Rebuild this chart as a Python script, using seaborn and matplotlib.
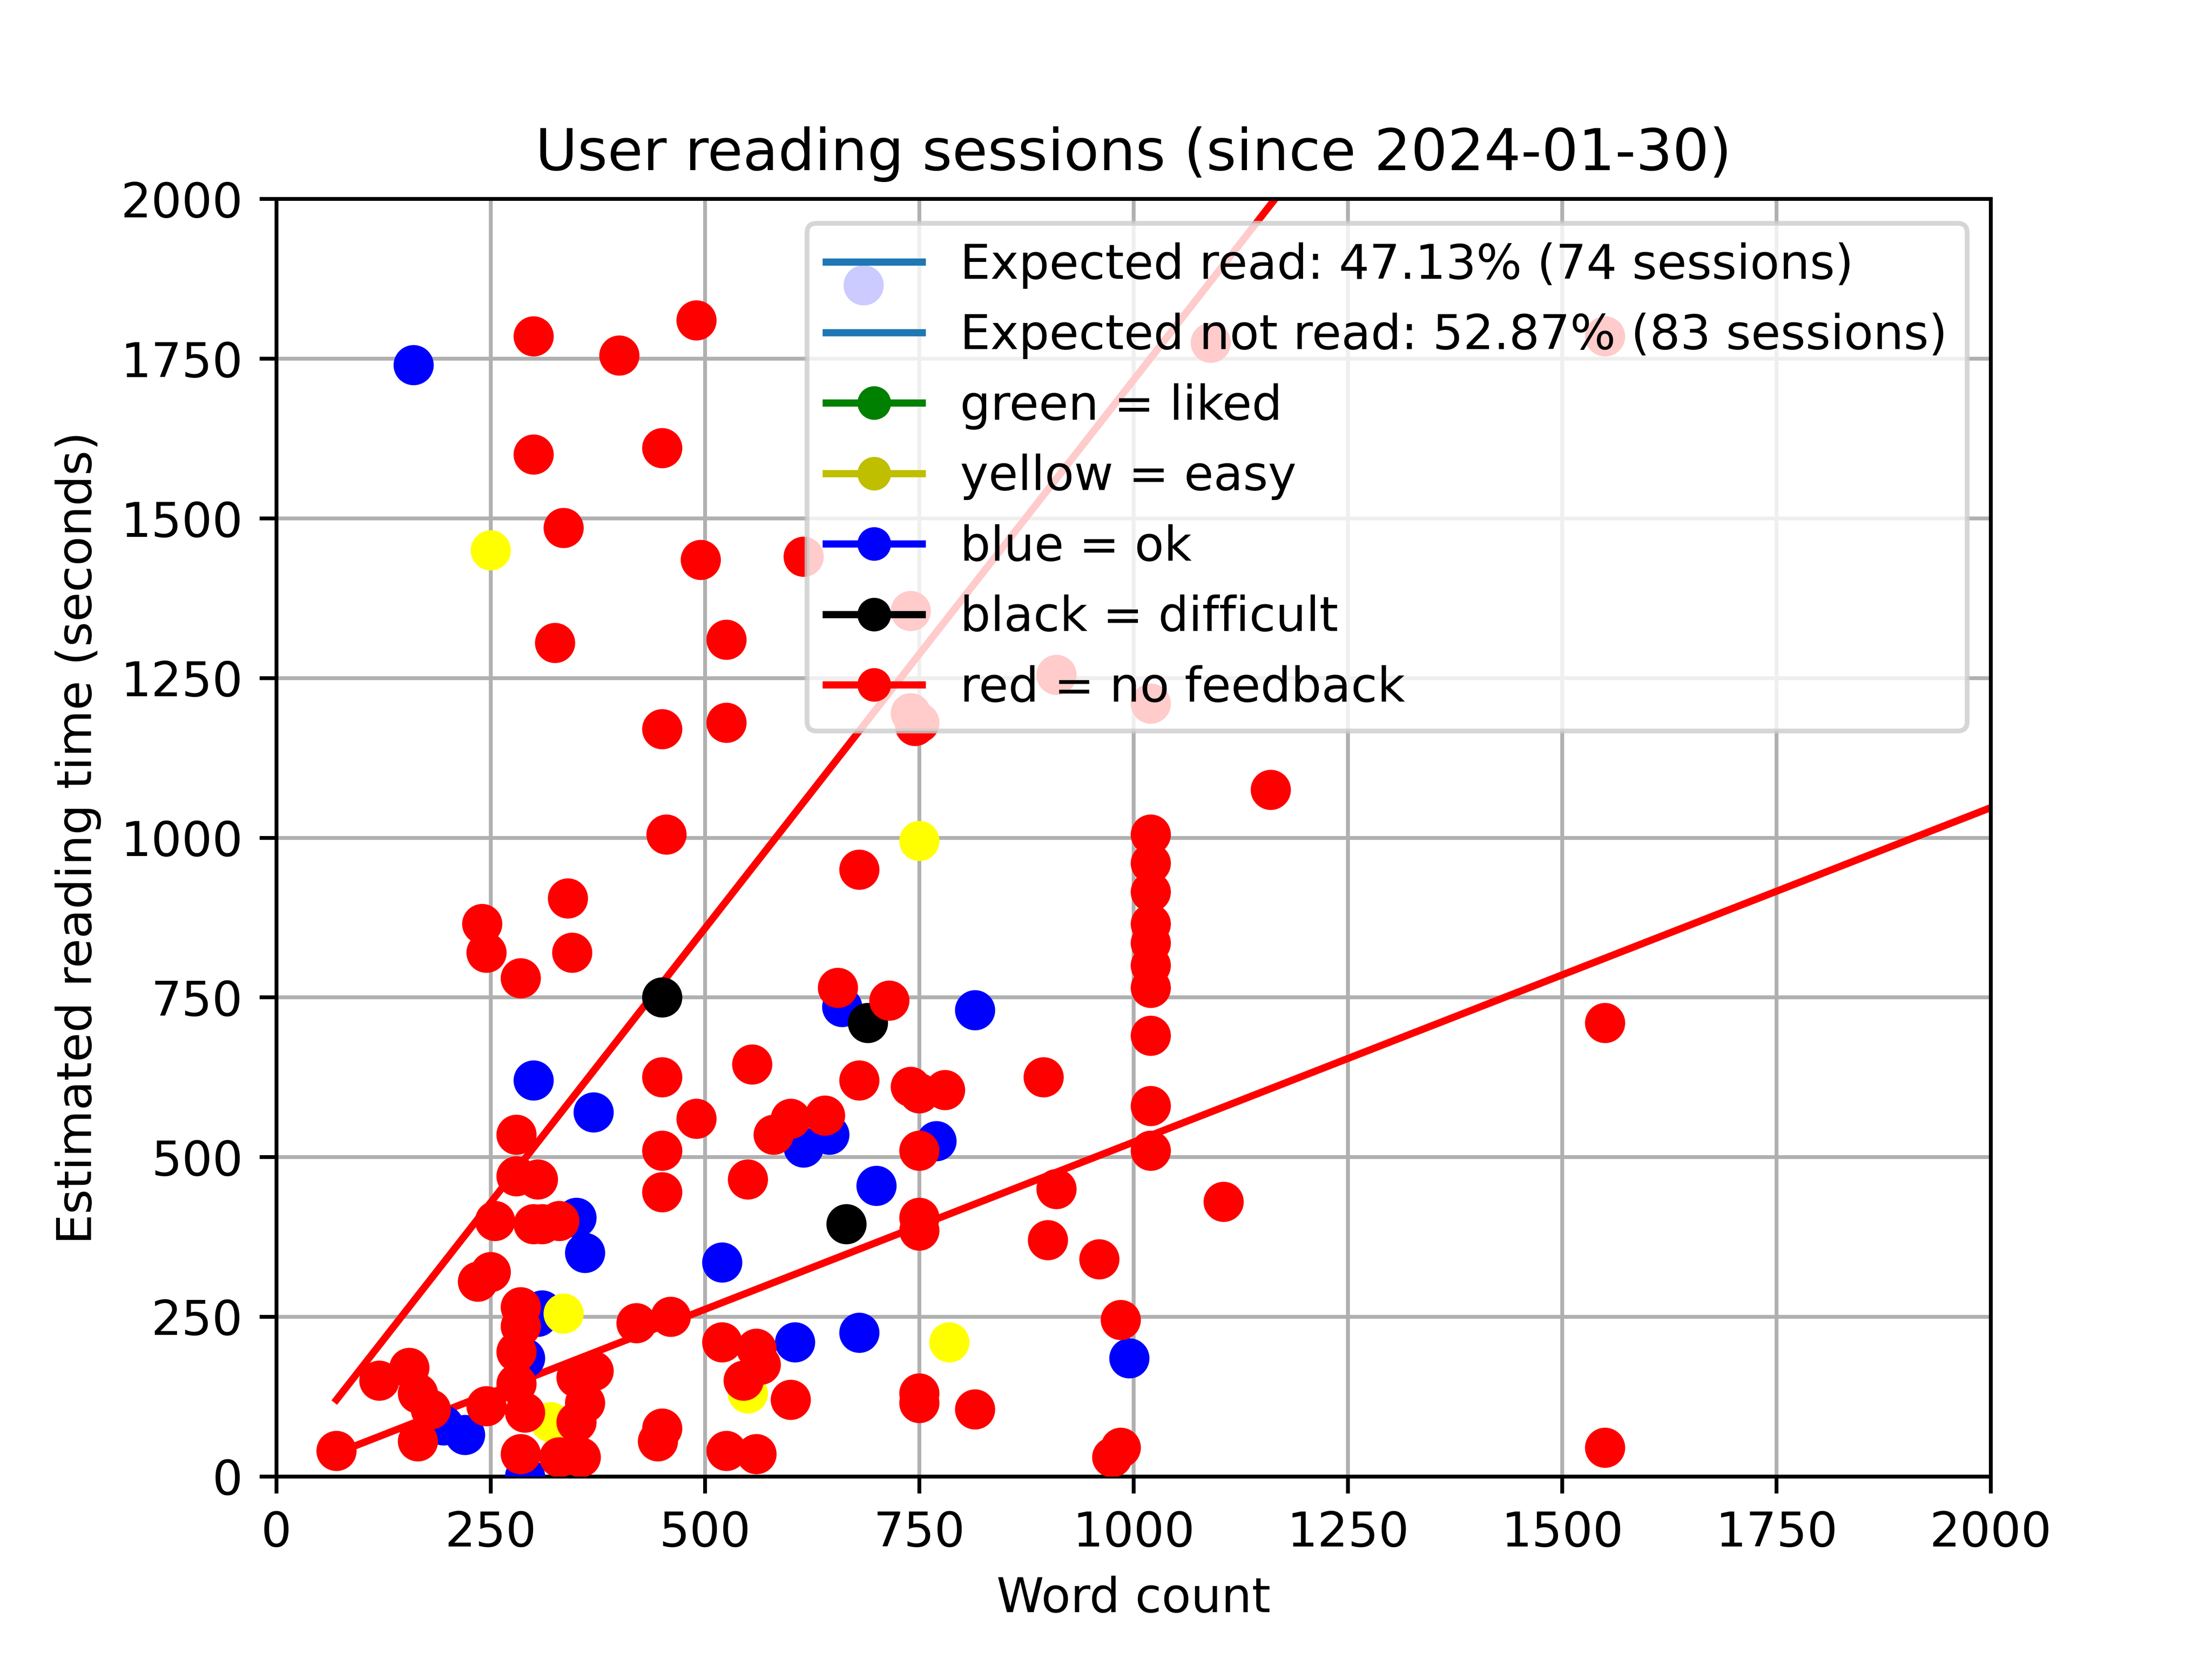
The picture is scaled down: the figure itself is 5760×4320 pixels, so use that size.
import numpy as np
import pandas as pd
import seaborn as sns
import matplotlib.pyplot as plt
from matplotlib.lines import Line2D

red_x = [70, 120, 155, 165, 165, 180, 235, 240, 245, 250, 255, 245, 285, 280, 280, 285, 285, 280, 280, 290, 285,
         300, 300, 300, 305, 310, 325, 330, 335, 340, 345, 350, 350, 355, 360, 370, 330, 400, 420, 445, 450, 450,
         450, 450, 450, 450, 455, 460, 490, 495, 490, 520, 525, 525, 525, 545, 550, 555, 560, 565, 560, 580, 600,
         600, 615, 640, 655, 680, 680, 715, 740, 740, 745, 740, 750, 750, 750, 750, 750, 750, 750, 780, 815, 895,
         900, 910, 910, 960, 975, 985, 985, 1020, 1020, 1020, 1020, 1020, 1020, 1020, 1020, 1020, 1020, 1020,
         1090, 1105, 1160, 1550, 1550, 1550]
red_y = [40, 150, 170, 130, 55, 105, 305, 865, 820, 320, 400, 110, 780, 535, 470, 265, 235, 195, 145, 100, 35,
         1785, 1600, 395, 465, 395, 1305, 400, 1485, 905, 820, 155, 85, 30, 115, 165, 30, 1755, 240, 55, 75, 1610,
         1170, 625, 510, 445, 1005, 250, 1810, 1435, 560, 210, 1310, 1180, 40, 150, 465, 645, 200, 175, 35, 535, 560,
         120, 1440, 565, 765, 950, 620, 745, 1355, 1195, 1175, 610, 1180, 600, 510, 405, 385, 130, 115, 605, 105, 625,
         370, 450, 1255, 340, 30, 45, 245, 1005, 960, 915, 865, 835, 800, 765, 690, 580, 510, 1210,
         1775, 430, 1075, 1785, 710, 45]
blue_x = [160, 195, 220, 290, 300, 305, 310, 350, 360, 370, 520, 605, 615, 645, 660, 680, 685, 700, 750, 770, 815, 995, 290]
blue_y = [1740, 80, 65, 185, 620, 250, 260, 405, 350, 570, 335, 210, 515, 535, 735, 225, 1865, 455, 600, 525, 730, 185, 0]
yellow_x = [250, 320, 335, 550, 750, 785]
yellow_y = [1450, 85, 255, 130, 995, 210]
black_x = [450, 665, 690]
black_y = [750, 395, 710]

line_x = [70, 2000]
read_slope = 1.717
notread_slope = 0.5236

df = pd.DataFrame({
    "words": blue_x + yellow_x + black_x + red_x,
    "time": blue_y + yellow_y + black_y + red_y,
    "feedback": ["blue"] * len(blue_x) + ["yellow"] * len(yellow_x) + ["black"] * len(black_x) + ["red"] * len(red_x),
})

fig, ax = plt.subplots(figsize=(6.4, 4.8), dpi=900)
sns.scatterplot(data=df, x="words", y="time", hue="feedback",
                palette={"blue": "blue", "yellow": "yellow", "black": "black", "red": "red"},
                s=70, edgecolor="none", legend=False, ax=ax, zorder=3)
lx = np.array(line_x)
ax.plot(lx, lx * read_slope, color="red", zorder=2)
ax.plot(lx, lx * notread_slope, color="red", zorder=2)

ax.set_xlim(0, 2000)
ax.set_ylim(0, 2000)
ax.set_xticks(range(0, 2001, 250))
ax.set_yticks(range(0, 2001, 250))
ax.grid(True, zorder=0)
ax.set_axisbelow(True)
ax.set_xlabel("Word count")
ax.set_ylabel("Estimated reading time (seconds)")
ax.set_title("User reading sessions (since 2024-01-30)")

handles = [
    Line2D([], [], color="tab:blue", label="Expected read: 47.13% (74 sessions)"),
    Line2D([], [], color="tab:blue", label="Expected not read: 52.87% (83 sessions)"),
    Line2D([], [], color="green", marker="o", label="green = liked"),
    Line2D([], [], color="y", marker="o", label="yellow = easy"),
    Line2D([], [], color="blue", marker="o", label="blue = ok"),
    Line2D([], [], color="black", marker="o", label="black = difficult"),
    Line2D([], [], color="red", marker="o", label="red = no feedback"),
]
ax.legend(handles=handles, loc="upper right")

fig.savefig("out.png")
